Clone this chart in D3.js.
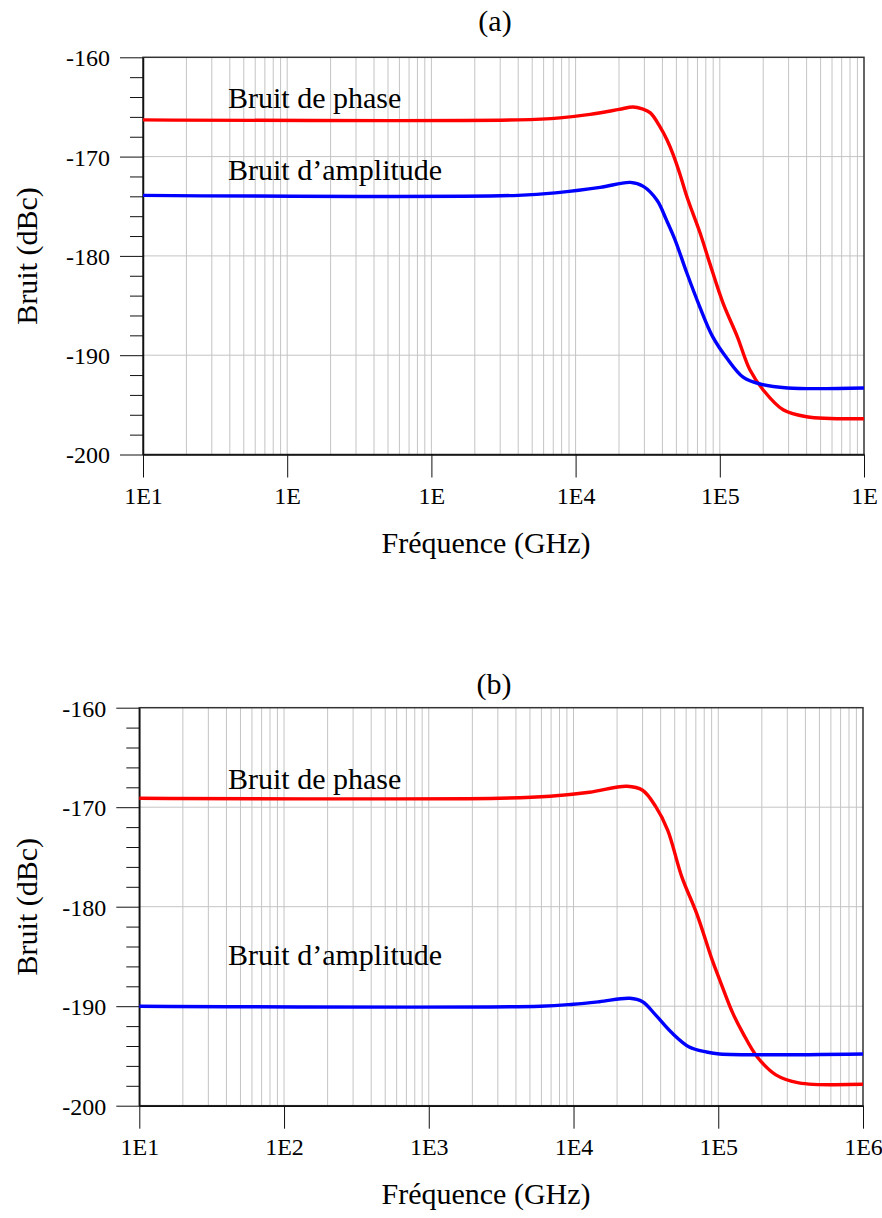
<!DOCTYPE html>
<html>
<head>
<meta charset="utf-8">
<script src="https://cdn.jsdelivr.net/npm/d3@7"></script>
<style>
  html, body { margin: 0; padding: 0; background: #fff; }
  svg { display: block; }
  text { font-family: "Liberation Serif", "Times New Roman", serif; fill: #000; }
</style>
</head>
<body>
<svg id="chart" width="882" height="1218"></svg>
<script>
// Panel (a): frequency (GHz) and noise level (dBc) for each curve
const aPhaseFreq = [10, 4.0e3, 7.8e3, 1.26e4, 2.0e4, 2.5e4, 2.9e4, 3.3e4, 3.85e4, 4.3e4, 4.75e4, 5.3e4, 5.9e4, 6.5e4, 7.3e4, 8.5e4, 1.05e5, 1.32e5, 1.62e5, 2.0e5, 2.75e5, 4.0e5, 1e6];
const aPhaseDb   = [-166.3, -166.3, -166.1, -165.75, -165.25, -165.0, -165.2, -165.6, -167.0, -168.3, -169.8, -171.8, -174.0, -175.7, -177.7, -180.7, -184.7, -188.1, -191.5, -193.5, -195.5, -196.2, -196.4];
const aAmpFreq   = [10, 4.0e3, 7.8e3, 1.48e4, 2.4e4, 2.95e4, 3.67e4, 4.27e4, 4.9e4, 5.9e4, 7.25e4, 8.9e4, 1.12e5, 1.45e5, 1.9e5, 2.95e5, 1e6];
const aAmpDb     = [-173.9, -173.9, -173.6, -173.1, -172.6, -173.0, -174.4, -176.4, -178.4, -181.7, -185.1, -188.1, -190.3, -192.2, -192.9, -193.3, -193.3];

// Panel (b)
const bPhaseFreq = [10, 3.1e3, 6.9e3, 1.29e4, 2.34e4, 3.0e4, 3.7e4, 4.47e4, 5.6e4, 7.1e4, 9.1e4, 1.02e5, 1.26e5, 1.48e5, 1.86e5, 2.5e5, 3.6e5, 1e6];
const bPhaseDb   = [-169.1, -169.1, -168.9, -168.5, -167.9, -168.3, -169.95, -172.3, -177.0, -180.7, -185.4, -187.3, -190.7, -192.7, -195.1, -196.9, -197.7, -197.85];
const bAmpFreq   = [10, 5.9e3, 1.0e4, 1.51e4, 2.45e4, 3.0e4, 3.7e4, 4.8e4, 6.3e4, 8.3e4, 1.02e5, 1e6];
const bAmpDb     = [-190.0, -190.0, -189.8, -189.55, -189.2, -189.55, -190.9, -192.7, -194.1, -194.6, -194.8, -194.8];

// Axis ticks and labels
const xMajor = [1e1, 1e2, 1e3, 1e4, 1e5, 1e6];
const aXLabels = ["1E1", "1E", "1E", "1E4", "1E5", "1E"];
const bXLabels = ["1E1", "1E2", "1E3", "1E4", "1E5", "1E6"];
const yMajor = [-200, -190, -180, -170, -160];
const yLabels = ["-200", "-190", "-180", "-170", "-160"];
const yMinor = [-198, -196, -194, -192, -188, -186, -184, -182, -178, -176, -174, -172, -168, -166, -164, -162];

const FONT = "Liberation Serif, Times New Roman, serif";
const svg = d3.select("#chart");

function drawPanel(p) {
  const g = svg.append("g");
  const x = d3.scaleLog().domain([1e1, 1e6]).range([p.left, p.right]);
  const y = d3.scaleLinear().domain([-200, -160]).range([p.bottom, p.top]);

  // vertical grid on every 1..9 x 10^k
  const xGrid = [];
  for (let k = 1; k <= 5; k++) for (let m = 1; m <= 9; m++) xGrid.push(m * Math.pow(10, k));
  g.append("g").selectAll("line").data(xGrid).join("line")
    .attr("x1", d => x(d)).attr("x2", d => x(d))
    .attr("y1", p.top).attr("y2", p.bottom)
    .attr("stroke", "#c4c4c4").attr("stroke-width", 1);
  // horizontal grid on major levels
  g.append("g").selectAll("line").data(yMajor.slice(1, -1)).join("line")
    .attr("x1", p.left).attr("x2", p.right)
    .attr("y1", d => y(d)).attr("y2", d => y(d))
    .attr("stroke", "#c4c4c4").attr("stroke-width", 1);

  // frame
  g.append("rect")
    .attr("x", p.left).attr("y", p.top)
    .attr("width", p.right - p.left).attr("height", p.bottom - p.top)
    .attr("fill", "none").attr("stroke", "#333").attr("stroke-width", 1.5);

  // x axis
  const xAxis = g.append("g").attr("transform", `translate(0,${p.bottom})`)
    .call(d3.axisBottom(x).tickValues(xMajor).tickSize(23).tickSizeOuter(0)
      .tickFormat((d, i) => p.xLabels[i]))
    .attr("font-family", FONT).attr("font-size", 24);
  xAxis.select(".domain").attr("stroke", "#111").attr("stroke-width", 1.5);
  xAxis.selectAll(".tick line").attr("stroke", "#111");
  xAxis.selectAll(".tick text").attr("y", 49).attr("dy", 0).attr("fill", "#000");

  // y axis: majors with labels, minors without
  const yAxis = g.append("g").attr("transform", `translate(${p.left},0)`)
    .call(d3.axisLeft(y).tickValues(yMajor).tickSize(23).tickSizeOuter(0)
      .tickFormat((d, i) => yLabels[i]))
    .attr("font-family", FONT).attr("font-size", 24);
  yAxis.select(".domain").attr("stroke", "#111").attr("stroke-width", 1.5);
  yAxis.selectAll(".tick line").attr("stroke", "#111");
  yAxis.selectAll(".tick text").attr("x", -33).attr("dy", "0.35em").attr("fill", "#000");
  const yMin = g.append("g").attr("transform", `translate(${p.left},0)`)
    .call(d3.axisLeft(y).tickValues(yMinor).tickSize(13).tickFormat(""));
  yMin.select(".domain").remove();
  yMin.selectAll(".tick line").attr("stroke", "#111");

  // curves
  const line = d3.line().x(d => x(d[0])).y(d => y(d[1])).curve(d3.curveCatmullRom.alpha(0.5));
  p.series.forEach(s => {
    const pts = s.freq.map((f, i) => [f, s.db[i]]);
    g.append("path").datum(pts)
      .attr("d", line).attr("fill", "none")
      .attr("stroke", s.color).attr("stroke-width", 3.4)
      .attr("stroke-linejoin", "round");
    g.append("text").attr("x", s.lx).attr("y", s.ly)
      .style("font-size", "30px").text(s.name);
  });

  // titles
  g.append("text").attr("x", p.titleX).attr("y", p.titleY)
    .attr("text-anchor", "middle").style("font-size", "30px").text(p.title);
  g.append("text").attr("x", 486).attr("y", p.bottom + 98)
    .attr("text-anchor", "middle").style("font-size", "30px").text("Fréquence (GHz)");
  g.append("text")
    .attr("transform", `translate(37,${(p.top + p.bottom) / 2}) rotate(-90)`)
    .attr("text-anchor", "middle").style("font-size", "30px").text("Bruit (dBc)");
}

drawPanel({
  left: 143, right: 864, top: 57.3, bottom: 454.5,
  xLabels: aXLabels, title: "(a)", titleX: 495, titleY: 31,
  series: [
    { name: "Bruit de phase", freq: aPhaseFreq, db: aPhaseDb, color: "#ff0000", lx: 228, ly: 108 },
    { name: "Bruit d’amplitude", freq: aAmpFreq, db: aAmpDb, color: "#0000ff", lx: 228, ly: 180 }
  ]
});

drawPanel({
  left: 139.3, right: 863, top: 707.7, bottom: 1105.7,
  xLabels: bXLabels, title: "(b)", titleX: 494, titleY: 694,
  series: [
    { name: "Bruit de phase", freq: bPhaseFreq, db: bPhaseDb, color: "#ff0000", lx: 228, ly: 789 },
    { name: "Bruit d’amplitude", freq: bAmpFreq, db: bAmpDb, color: "#0000ff", lx: 228, ly: 965 }
  ]
});
</script>
</body>
</html>
